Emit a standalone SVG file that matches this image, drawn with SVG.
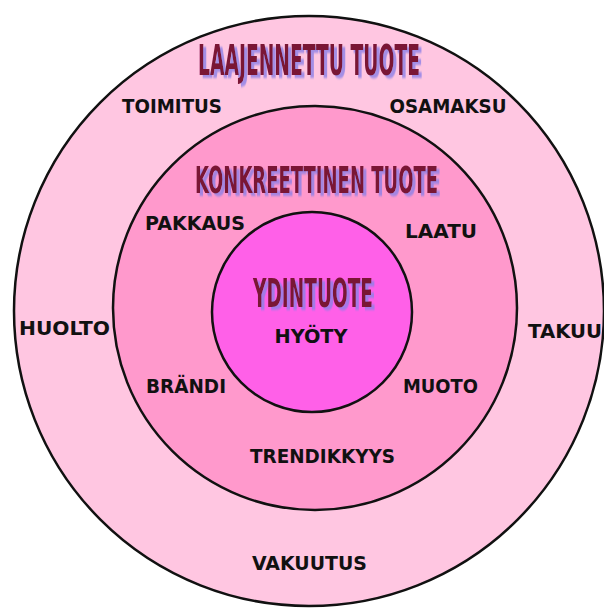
<svg xmlns="http://www.w3.org/2000/svg" width="604" height="610" viewBox="0 0 604 610">
<defs>
<filter id="sh" x="-30%" y="-50%" width="160%" height="200%">
<feDropShadow dx="6" dy="3" stdDeviation="0.8" flood-color="#8C80E6" flood-opacity="0.8"/>
</filter>
</defs>
<style>
.ring{stroke:#111;stroke-width:2.5}
.title{font-family:"DejaVu Sans Condensed","Liberation Sans Narrow","Liberation Sans",sans-serif;font-weight:bold;text-anchor:middle;fill:#7A1535;filter:url(#sh)}
.lbl{font-family:"DejaVu Sans","Liberation Sans",sans-serif;font-weight:bold;font-size:19px;fill:#111;text-anchor:middle}
</style>
<rect width="604" height="610" fill="#ffffff"/>
<g id="laajennettu">
<circle class="ring" cx="309" cy="311" r="295" fill="#FFC6E1"/>
<text class="title" transform="translate(309,75) scale(0.5,1)" x="0" y="0" font-size="43" textLength="444" lengthAdjust="spacingAndGlyphs">LAAJENNETTU TUOTE</text>
<text class="lbl" x="172" y="113" textLength="100" lengthAdjust="spacingAndGlyphs">TOIMITUS</text>
<text class="lbl" x="448" y="113" textLength="117" lengthAdjust="spacingAndGlyphs">OSAMAKSU</text>
<text class="lbl" x="64.5" y="335" textLength="91" lengthAdjust="spacingAndGlyphs">HUOLTO</text>
<text class="lbl" x="565" y="338" textLength="74" lengthAdjust="spacingAndGlyphs">TAKUU</text>
<text class="lbl" x="309.5" y="570" textLength="115" lengthAdjust="spacingAndGlyphs">VAKUUTUS</text>
</g>
<g id="konkreettinen">
<circle class="ring" cx="315" cy="308" r="202" fill="#FF99CC"/>
<text class="title" transform="translate(316.5,193) scale(0.5,1)" x="0" y="0" font-size="38" textLength="486" lengthAdjust="spacingAndGlyphs">KONKREETTINEN TUOTE</text>
<text class="lbl" x="195" y="230" textLength="100" lengthAdjust="spacingAndGlyphs">PAKKAUS</text>
<text class="lbl" x="441" y="238" textLength="72" lengthAdjust="spacingAndGlyphs">LAATU</text>
<text class="lbl" x="186" y="393" textLength="80" lengthAdjust="spacingAndGlyphs">BRÄNDI</text>
<text class="lbl" x="440.5" y="393" textLength="75" lengthAdjust="spacingAndGlyphs">MUOTO</text>
<text class="lbl" x="322.5" y="463" textLength="145" lengthAdjust="spacingAndGlyphs">TRENDIKKYYS</text>
</g>
<g id="ydintuote">
<circle class="ring" cx="312" cy="312" r="100" fill="#FF60E8"/>
<text class="title" transform="translate(313,307) scale(0.5,1)" x="0" y="0" font-size="39" textLength="240" lengthAdjust="spacingAndGlyphs">YDINTUOTE</text>
<text class="lbl" x="311" y="343" textLength="73" lengthAdjust="spacingAndGlyphs">HYÖTY</text>
</g>
<g id="connectors"/>
</svg>
